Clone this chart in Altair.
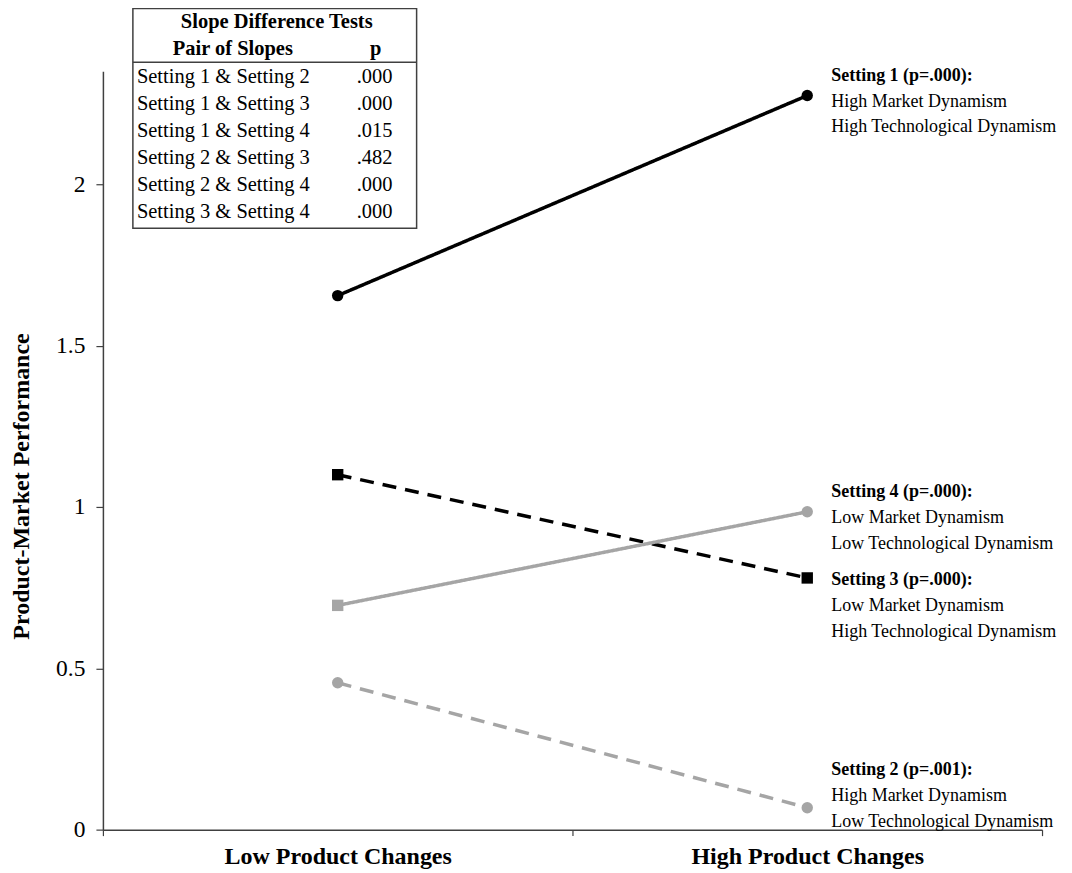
import altair as alt
import pandas as pd

# ---------------- data ----------------
categories = ["Low Product Changes", "High Product Changes"]
settings = ["Setting 1", "Setting 2", "Setting 3", "Setting 4"]
low_values = [1.655, 0.455, 1.100, 0.695]
high_values = [2.275, 0.068, 0.780, 0.985]
low_shapes = ["circle", "circle", "square", "square"]
high_shapes = ["circle", "circle", "square", "circle"]
series_colors = ["#000000", "#a5a5a5", "#000000", "#a5a5a5"]
series_dashes = [[1, 0], [14, 9], [14, 9], [1, 0]]

label_titles = ["Setting 1 (p=.000):", "Setting 2 (p=.001):",
                "Setting 3 (p=.000):", "Setting 4 (p=.000):"]
label_line2 = ["High Market Dynamism", "High Market Dynamism",
               "Low Market Dynamism", "Low Market Dynamism"]
label_line3 = ["High Technological Dynamism", "Low Technological Dynamism",
               "High Technological Dynamism", "Low Technological Dynamism"]
label_anchor = [2.337, 0.186, 0.774, 1.046]

table_title = "Slope Difference Tests"
table_headers = ["Pair of Slopes", "p"]
table_pairs = ["Setting 1 & Setting 2", "Setting 1 & Setting 3", "Setting 1 & Setting 4",
               "Setting 2 & Setting 3", "Setting 2 & Setting 4", "Setting 3 & Setting 4"]
table_p = [".000", ".000", ".015", ".482", ".000", ".000"]

y_ticks = [0, 0.5, 1, 1.5, 2]

# ---------------- build tables ----------------
rows = []
for i, s in enumerate(settings):
    rows.append({"setting": s, "cat": categories[0], "value": low_values[i],
                 "shape": low_shapes[i], "color": series_colors[i]})
    rows.append({"setting": s, "cat": categories[1], "value": high_values[i],
                 "shape": high_shapes[i], "color": series_colors[i]})
df = pd.DataFrame(rows)

ann = pd.DataFrame({"setting": settings, "cat": categories[1], "y": label_anchor,
                    "t1": label_titles, "t2": label_line2, "t3": label_line3})

FONT = "Liberation Serif"
W, H = 940, 759

x_enc = alt.X("cat:N", sort=categories, title=None,
              scale=alt.Scale(type="band", domain=categories, paddingInner=0, paddingOuter=0),
              axis=alt.Axis(labelFont=FONT, labelFontSize=24, labelFontWeight="bold",
                            labelColor="#000000", labelAngle=0, labelPadding=9, labelLimit=0,
                            tickBand="extent", tickSize=6, tickColor="#404040",
                            domainColor="#404040", domainWidth=1.5, tickWidth=1.2,
                            grid=False))
y_enc = alt.Y("value:Q", title="Product-Market Performance",
              scale=alt.Scale(domain=[0, 2.35], nice=False, zero=True),
              axis=alt.Axis(values=y_ticks, format="~g", labelFont=FONT, labelFontSize=23.5,
                            labelColor="#000000", labelPadding=11, tickSize=7,
                            tickColor="#404040", domainColor="#404040", domainWidth=1.5,
                            tickWidth=1.2, grid=False, titleFont=FONT, titleFontSize=24,
                            titleFontWeight="bold", titleColor="#000000",
                            titleAngle=-90, titleAlign="center", titleBaseline="alphabetic",
                            titleX=-74, titleY=415))

base = alt.Chart(df)
lines = base.mark_line(strokeWidth=3.5).encode(
    x=x_enc, y=y_enc,
    color=alt.Color("color:N", scale=None),
    strokeDash=alt.StrokeDash("setting:N", scale=alt.Scale(domain=settings, range=series_dashes),
                              legend=None),
    detail="setting:N",
)
points = base.mark_point(filled=True, opacity=1, size=130).encode(
    x=alt.X("cat:N", sort=categories),
    y="value:Q",
    color=alt.Color("color:N", scale=None),
    shape=alt.Shape("shape:N", scale=None),
)

annb = alt.Chart(ann)
ann_layers = []
for field, dy, weight in [("t1", 0, "bold"), ("t2", 26, "normal"), ("t3", 52, "normal")]:
    ann_layers.append(
        annb.mark_text(align="left", baseline="middle", dx=24, dy=dy, font=FONT,
                       fontSize=18, fontWeight=weight, color="#000000").encode(
            x=alt.X("cat:N", sort=categories), y="y:Q", text=f"{field}:N")
    )

# ---------------- slope difference table (pixel layout) ----------------
one = pd.DataFrame({"k": [0]})
TF = 20.5
tbl_layers = [
    alt.Chart(one).mark_rect(fillOpacity=0, stroke="#404040", strokeWidth=1.5).encode(
        x=alt.value(30), x2=alt.value(314), y=alt.value(-63), y2=alt.value(157)),
    alt.Chart(one).mark_rule(stroke="#404040", strokeWidth=1.5).encode(
        x=alt.value(30), x2=alt.value(314), y=alt.value(-9)),
    alt.Chart(one).mark_text(font=FONT, fontSize=TF, fontWeight="bold", baseline="middle",
                             align="center", color="#000000").encode(
        x=alt.value(174), y=alt.value(-49), text=alt.value(table_title)),
    alt.Chart(one).mark_text(font=FONT, fontSize=TF, fontWeight="bold", baseline="middle",
                             align="center", color="#000000").encode(
        x=alt.value(130), y=alt.value(-22), text=alt.value(table_headers[0])),
    alt.Chart(one).mark_text(font=FONT, fontSize=TF, fontWeight="bold", baseline="middle",
                             align="center", color="#000000").encode(
        x=alt.value(273), y=alt.value(-22), text=alt.value(table_headers[1])),
]
for i, (pair, p) in enumerate(zip(table_pairs, table_p)):
    ypix = 6 + 27 * i
    tbl_layers.append(
        alt.Chart(one).mark_text(font=FONT, fontSize=TF, baseline="middle", align="left",
                                 color="#000000").encode(
            x=alt.value(34), y=alt.value(ypix), text=alt.value(pair)))
    tbl_layers.append(
        alt.Chart(one).mark_text(font=FONT, fontSize=TF, baseline="middle", align="center",
                                 color="#000000").encode(
            x=alt.value(272), y=alt.value(ypix), text=alt.value(p)))

chart = alt.layer(lines, points, *ann_layers, *tbl_layers).properties(
    width=W, height=H,
    background="white",
    autosize=alt.AutoSizeParams(type="none"),
    padding={"left": 95, "top": 63, "right": 22, "bottom": 40},
).configure_view(stroke="transparent", strokeWidth=0)

chart.save("out.html", embed_options={"renderer": "svg", "actions": False})
